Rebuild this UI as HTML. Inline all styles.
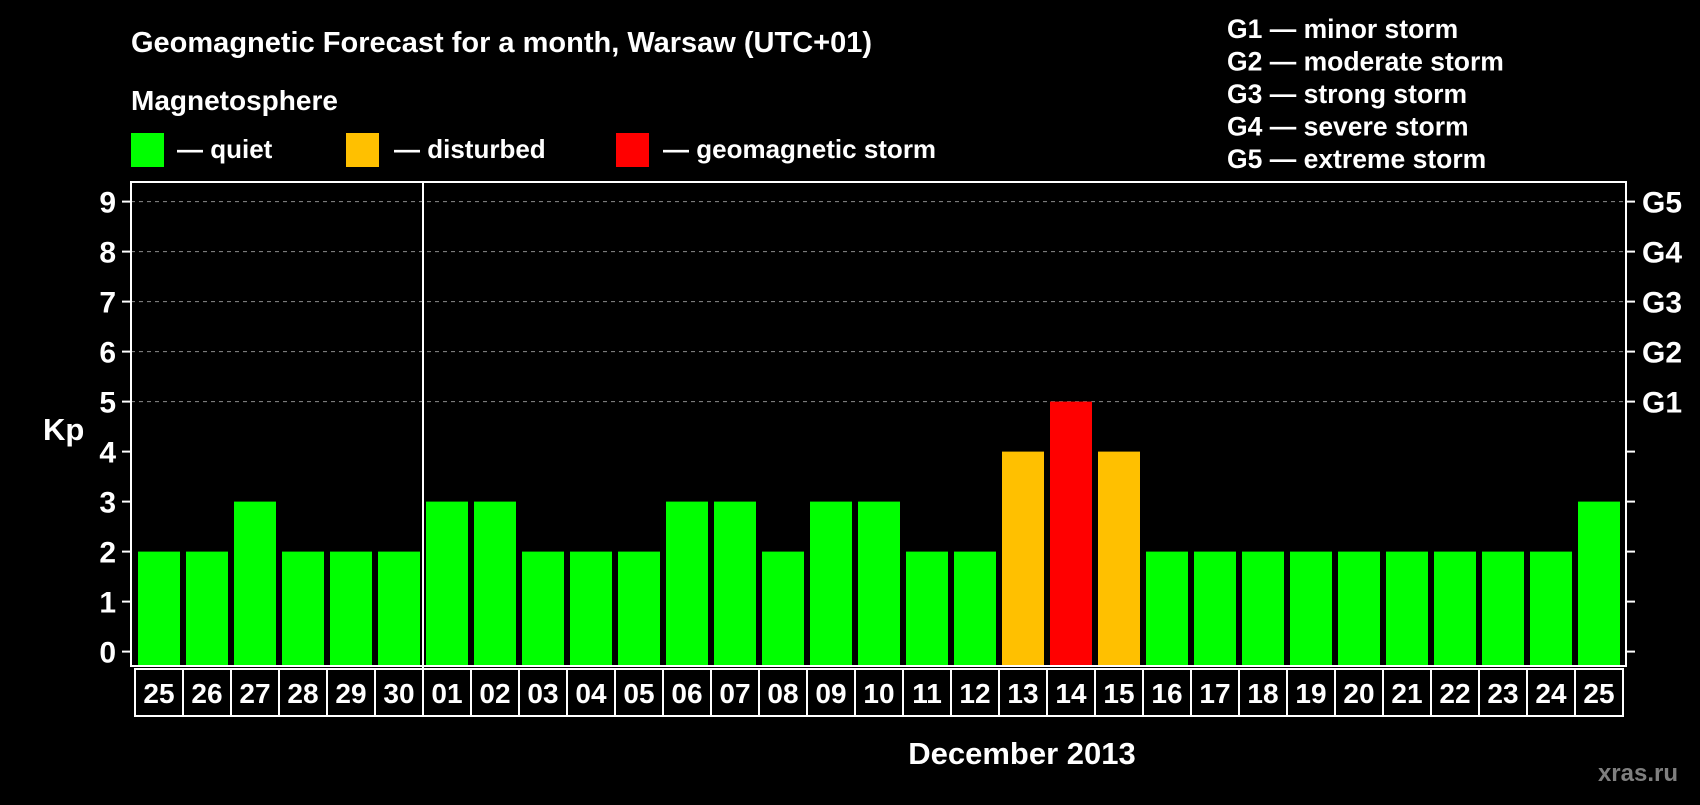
<!DOCTYPE html>
<html><head><meta charset="utf-8"><style>
html,body{margin:0;padding:0;background:#000;}
svg text{font-family:"Liberation Sans",Arial,sans-serif;font-weight:bold;fill:#fff;}
</style></head><body>
<svg id="chart" width="1700" height="800" viewBox="0 0 1700 800" xmlns="http://www.w3.org/2000/svg">
<rect width="1700" height="800" fill="#000"/>
<text x="131" y="52" font-size="29">Geomagnetic Forecast for a month, Warsaw (UTC+01)</text>
<text x="131" y="110" font-size="28">Magnetosphere</text>
<rect x="131" y="133" width="33" height="34" fill="#00ff00"/>
<text x="177" y="158" font-size="26">— quiet</text>
<rect x="346" y="133" width="33" height="34" fill="#ffc000"/>
<text x="394" y="158" font-size="26">— disturbed</text>
<rect x="616" y="133" width="33" height="34" fill="#ff0000"/>
<text x="663" y="158" font-size="26">— geomagnetic storm</text>
<g font-size="26.5">
<text x="1227" y="38">G1 — minor storm</text>
<text x="1227" y="70.5">G2 — moderate storm</text>
<text x="1227" y="103">G3 — strong storm</text>
<text x="1227" y="135.5">G4 — severe storm</text>
<text x="1227" y="168">G5 — extreme storm</text>
</g>
<text x="43" y="440" font-size="31">Kp</text>
<text x="1022" y="764" font-size="31" text-anchor="middle">December 2013</text>
<text x="1678" y="781" font-size="24" text-anchor="end" style="fill:#7f7f7f">xras.ru</text>
<g id="grid"></g><g id="bars"></g><g id="axes"></g>
</svg>
<script>
const days=["25","26","27","28","29","30","01","02","03","04","05","06","07","08","09","10","11","12","13","14","15","16","17","18","19","20","21","22","23","24","25"];
const kpValues=[2,2,3,2,2,2,3,3,2,2,2,3,3,2,3,3,2,2,4,5,4,2,2,2,2,2,2,2,2,2,3];
const yTicks=[0,1,2,3,4,5,6,7,8,9];
const gLabels=["G1","G2","G3","G4","G5"];
const gLevels=[5,6,7,8,9];
const NS="http://www.w3.org/2000/svg";
const L=131,R=1626,T=182,B=666,Y0=651.6,U=50,X0=135,STEP=48;
const y=v=>Y0-v*U;
const x=i=>X0+i*STEP;
function mk(tag,attrs,parent){const e=document.createElementNS(NS,tag);for(const k in attrs)e.setAttribute(k,attrs[k]);parent.appendChild(e);return e;}
const grid=document.getElementById('grid'),bars=document.getElementById('bars'),axes=document.getElementById('axes');
gLevels.forEach(v=>{const l=mk('line',{x1:L,x2:R,y1:y(v),y2:y(v),stroke:'#8c8c8c','stroke-width':1,'stroke-dasharray':'4,4'},grid);

});
kpValues.forEach((v,i)=>{const c=v>=5?'#ff0000':(v>=4?'#ffc000':'#00ff00');
const r=mk('rect',{x:x(i)+3,y:y(v),width:42,height:B-y(v),fill:c},bars);


const cell=mk('rect',{x:x(i),y:669,width:STEP,height:47,fill:'none',stroke:'#fff','stroke-width':2},axes);


const t=mk('text',{x:x(i)+STEP/2,y:703,'font-size':28,'text-anchor':'middle'},axes);t.textContent=days[i];

});
const fr=mk('rect',{x:L,y:T,width:R-L,height:B-T,fill:'none',stroke:'#fff','stroke-width':2},axes);


const dv=mk('line',{x1:x(6),x2:x(6),y1:T,y2:716,stroke:'#fff','stroke-width':2},axes);


yTicks.forEach(v=>{mk('line',{x1:122,x2:L,y1:y(v),y2:y(v),stroke:'#fff','stroke-width':2},axes);
mk('line',{x1:R,x2:1635,y1:y(v),y2:y(v),stroke:'#fff','stroke-width':2},axes);
const t=mk('text',{x:116,y:y(v)+11,'font-size':30,'text-anchor':'end'},axes);t.textContent=v;

});
gLabels.forEach((g,i)=>{const t=mk('text',{x:1642,y:y(gLevels[i])+11,'font-size':30},axes);t.textContent=g;

});
</script>
</body></html>
